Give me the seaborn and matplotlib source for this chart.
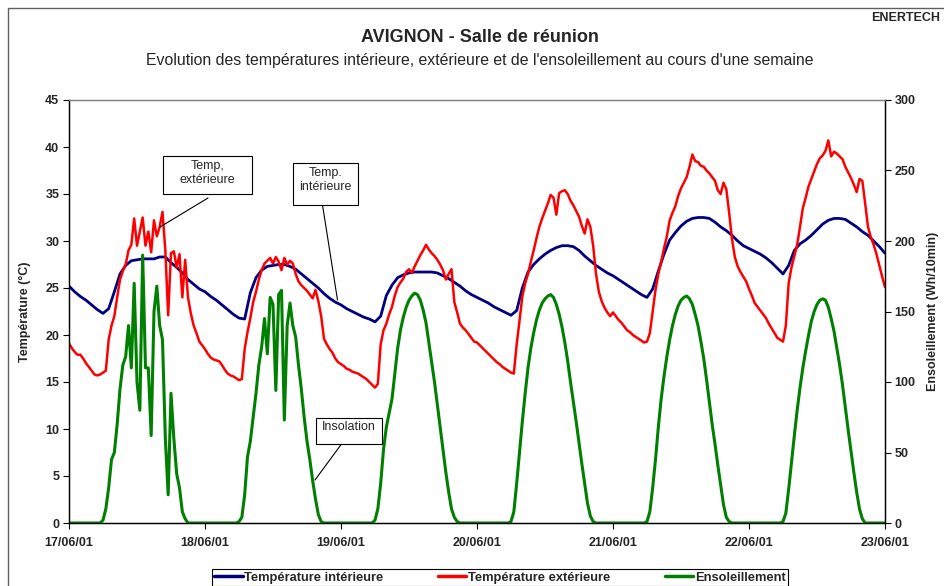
import numpy as np
import pandas as pd
import matplotlib
matplotlib.use('Agg')
import matplotlib.pyplot as plt
import seaborn as sns
from matplotlib.lines import Line2D
from matplotlib.patches import Rectangle

sns.set_style("white")
plt.rcParams['font.family'] = ['Liberation Sans', 'DejaVu Sans']

# dates (une graduation par jour)
jours = ["17/06/01", "18/06/01", "19/06/01", "20/06/01", "21/06/01", "22/06/01", "23/06/01"]

# temperature interieure, pas horaire (°C)
t_interieure = [
    25.2, 24.6, 24.1, 23.7, 23.2, 22.7, 22.3, 22.8, 24.6, 26.5, 27.4, 27.9, 28.0, 28.1, 28.1, 28.1, 28.3, 28.3, 27.7, 27.2, 26.6, 25.9, 25.4, 24.9,
    24.6, 24.1, 23.7, 23.2, 22.7, 22.2, 21.8, 21.7, 24.5, 26.1, 26.9, 27.3, 27.4, 27.5, 27.5, 27.3, 27.0, 26.5, 26.0, 25.5, 25.0, 24.4, 23.9, 23.5,
    23.2, 22.8, 22.5, 22.2, 21.9, 21.7, 21.4, 22.0, 24.2, 25.3, 26.1, 26.4, 26.6, 26.7, 26.7, 26.7, 26.7, 26.6, 26.3, 26.0, 25.6, 25.2, 24.7, 24.3,
    24.0, 23.7, 23.4, 23.0, 22.7, 22.4, 22.1, 22.6, 25.0, 26.7, 27.5, 28.1, 28.6, 29.0, 29.3, 29.5, 29.5, 29.4, 29.0, 28.4, 27.9, 27.4, 27.0, 26.6,
    26.3, 25.9, 25.5, 25.1, 24.7, 24.3, 24.0, 24.9, 26.8, 28.6, 30.1, 30.9, 31.6, 32.1, 32.4, 32.5, 32.5, 32.4, 32.0, 31.5, 31.1, 30.6, 30.0, 29.5,
    29.2, 28.9, 28.6, 28.2, 27.7, 27.1, 26.5, 27.4, 29.0, 29.7, 30.1, 30.6, 31.2, 31.8, 32.2, 32.4, 32.4, 32.3, 31.9, 31.5, 31.0, 30.6, 30.0, 29.4,
    28.7,
]

# temperature exterieure, pas de 30 min (°C)
t_exterieure = [
    19.1, 18.6, 18.2, 17.9, 17.9, 17.5, 17.0, 16.6, 16.2, 15.8, 15.7, 15.8, 16.0, 16.2, 19.5, 21.0, 22.0, 24.0, 25.9, 26.8, 27.5, 29.0, 29.6, 32.4,
    29.5, 31.0, 32.5, 29.5, 31.0, 28.8, 32.2, 30.5, 31.5, 33.1, 29.0, 22.1, 28.7, 28.9, 27.2, 28.6, 24.0, 28.0, 24.0, 22.3, 21.0, 20.2, 19.3, 18.9,
    18.5, 18.0, 17.6, 17.4, 17.3, 17.2, 16.8, 16.3, 15.9, 15.7, 15.6, 15.4, 15.2, 15.3, 18.5, 20.3, 21.8, 23.5, 24.6, 25.9, 26.9, 27.6, 27.9, 28.2,
    27.6, 28.3, 27.8, 26.9, 28.2, 27.5, 27.9, 27.6, 26.5, 25.7, 25.3, 25.0, 24.7, 24.3, 23.9, 24.8, 23.6, 22.0, 19.6, 19.0, 18.5, 18.1, 17.5, 17.1,
    16.9, 16.7, 16.4, 16.3, 16.1, 16.0, 15.9, 15.7, 15.5, 15.3, 15.0, 14.7, 14.4, 14.8, 19.0, 20.5, 21.2, 22.2, 23.0, 24.2, 25.1, 25.6, 26.0, 26.7,
    27.0, 26.6, 27.3, 27.9, 28.5, 29.0, 29.6, 29.1, 28.7, 28.4, 28.0, 27.5, 26.9, 25.9, 26.5, 27.0, 23.5, 22.4, 21.2, 20.8, 20.5, 20.1, 19.7, 19.3,
    19.2, 18.9, 18.6, 18.3, 18.0, 17.7, 17.4, 17.1, 16.9, 16.6, 16.4, 16.2, 16.0, 15.9, 19.0, 21.5, 24.1, 25.5, 26.5, 27.8, 29.0, 30.3, 31.5, 32.4,
    33.2, 34.0, 34.9, 34.6, 32.8, 35.1, 35.3, 35.4, 35.0, 34.3, 33.8, 33.2, 32.6, 31.6, 30.8, 32.3, 31.5, 29.5, 26.5, 24.6, 23.6, 22.9, 22.4, 22.0,
    22.4, 22.0, 21.6, 21.3, 20.9, 20.5, 20.3, 20.0, 19.8, 19.6, 19.4, 19.2, 19.3, 20.2, 22.5, 24.8, 26.5, 27.8, 29.2, 30.5, 32.2, 33.0, 33.7, 34.8,
    35.6, 36.2, 36.8, 37.9, 39.2, 38.5, 38.4, 38.0, 37.9, 37.5, 37.2, 36.8, 36.4, 35.4, 35.0, 36.2, 35.5, 33.0, 30.2, 28.3, 27.3, 26.7, 26.2, 25.7,
    24.9, 24.2, 23.4, 23.0, 22.6, 22.2, 21.8, 21.2, 20.7, 20.2, 19.7, 19.5, 19.3, 21.0, 25.5, 27.2, 28.4, 29.6, 31.5, 33.5, 34.6, 35.8, 36.6, 37.4,
    38.2, 38.8, 39.1, 39.6, 40.7, 39.0, 39.5, 39.3, 39.0, 38.7, 37.9, 37.3, 36.7, 36.0, 35.2, 36.6, 36.4, 34.0, 31.5, 30.4, 29.6, 28.6, 27.4, 26.2,
    25.1,
]

# ensoleillement, pas de 30 min (Wh/10min)
ensoleillement = [
    0, 0, 0, 0, 0, 0, 0, 0, 0, 0, 0, 0, 2, 10, 25, 45, 50, 70, 95, 112, 118, 140, 110, 170,
    100, 80, 190, 110, 110, 62, 150, 168, 140, 130, 60, 20, 92, 60, 35, 25, 8, 3, 0, 0, 0, 0, 0, 0,
    0, 0, 0, 0, 0, 0, 0, 0, 0, 0, 0, 0, 1, 4, 20, 47, 58, 75, 92, 112, 125, 145, 120, 160,
    155, 94, 162, 165, 73, 140, 156, 140, 132, 112, 95, 75, 58, 45, 30, 17, 6, 1, 0, 0, 0, 0, 0, 0,
    0, 0, 0, 0, 0, 0, 0, 0, 0, 0, 0, 0, 2, 10, 28, 52, 68, 78, 88, 106, 124, 137, 146, 153,
    158, 161, 163, 162, 158, 151, 142, 128, 114, 100, 84, 68, 52, 36, 22, 10, 4, 1, 0, 0, 0, 0, 0, 0,
    0, 0, 0, 0, 0, 0, 0, 0, 0, 0, 0, 0, 1, 8, 28, 50, 72, 92, 110, 124, 135, 144, 151, 156,
    159, 161, 162, 160, 155, 148, 139, 128, 115, 100, 86, 72, 57, 42, 28, 14, 5, 1, 0, 0, 0, 0, 0, 0,
    0, 0, 0, 0, 0, 0, 0, 0, 0, 0, 0, 0, 1, 8, 25, 45, 68, 88, 104, 118, 130, 140, 148, 154,
    158, 160, 161, 159, 155, 148, 140, 129, 117, 102, 86, 70, 56, 41, 27, 13, 4, 1, 0, 0, 0, 0, 0, 0,
    0, 0, 0, 0, 0, 0, 0, 0, 0, 0, 0, 0, 1, 7, 24, 43, 62, 80, 96, 110, 122, 133, 143, 150,
    155, 158, 159, 158, 153, 145, 136, 124, 112, 98, 82, 66, 51, 36, 22, 10, 3, 0, 0, 0, 0, 0, 0, 0,
    0,
]

heures_1h = np.arange(len(t_interieure)) * 1.0
heures_30 = np.arange(len(t_exterieure)) * 0.5

df_int = pd.DataFrame({'h': heures_1h, 'T': t_interieure})
df_ext = pd.DataFrame({'h': heures_30, 'T': t_exterieure, 'E': ensoleillement})

BLEU, ROUGE, VERT = '#000080', '#FF0000', '#008000'
H = 586  # hauteur en pixels, pour placer les etiquettes

fig = plt.figure(figsize=(9.45, 5.86), dpi=100)
ax = fig.add_axes([69/945, 1 - 523/586, 816/945, 423/586])
ax2 = ax.twinx()

sns.lineplot(data=df_int, x='h', y='T', ax=ax, color=BLEU, lw=2, estimator=None)
sns.lineplot(data=df_ext, x='h', y='T', ax=ax, color=ROUGE, lw=1.8, estimator=None)
sns.lineplot(data=df_ext, x='h', y='E', ax=ax2, color=VERT, lw=2.2, estimator=None)

ax.set_xlim(0, 144)
ax.set_ylim(0, 45)
ax2.set_ylim(0, 300)
ax.set_xticks(np.arange(0, 145, 24))
ax.set_xticklabels(jours, fontsize=9, fontweight='bold')
ax.set_yticks(np.arange(0, 46, 5))
ax.set_yticklabels([str(v) for v in range(0, 46, 5)], fontsize=9, fontweight='bold')
ax2.set_yticks(np.arange(0, 301, 50))
ax2.set_yticklabels([str(v) for v in range(0, 301, 50)], fontsize=9, fontweight='bold')

ax.tick_params(axis='both', direction='out', length=4, width=0.8, color='black', pad=3, left=True, bottom=True)
ax.tick_params(axis='x', pad=6)
ax2.tick_params(axis='y', direction='out', length=4, width=0.8, color='black', pad=3, right=True)

ax.set_xlabel('')
ax.set_ylabel('Température (°C)', fontsize=9, fontweight='bold')
ax2.set_ylabel('Ensoleillement (Wh/10min)', fontsize=9, fontweight='bold')
ax.yaxis.set_label_coords(-0.047, 0.5)
ax2.yaxis.set_label_coords(1.052, 0.5)

for a in (ax, ax2):
    a.spines['top'].set_color('#808080')
    a.spines['left'].set_color('black')
    a.spines['bottom'].set_color('black')
    a.spines['right'].set_color('black')
    for s in a.spines.values():
        s.set_linewidth(0.9)

# titres
fig.text(0.508, 1 - 37/586, 'AVIGNON - Salle de réunion', ha='center', va='center', fontsize=13, fontweight='bold')
fig.text(0.508, 1 - 60/586, "Evolution des températures intérieure, extérieure et de l'ensoleillement au cours d'une semaine",
         ha='center', va='center', fontsize=11.4)
fig.text(940/945, 1 - 18/586, 'ENERTECH', ha='right', va='center', fontsize=9, fontweight='bold')

# etiquettes encadrees avec traits de rappel (en pixels de la figure)
etiquettes = [
    # texte, centre du texte, cadre (x0, y0, x1, y1), trait (x0, y0, x1, y1)
    ('Temp,\nextérieure', (207.5, 173), (163, 156, 252, 194), (208, 198, 160, 227)),
    ('Temp.\nintérieure', (325.5, 180), (293, 163, 358, 205), (322.5, 205, 337.5, 300)),
    ('Insolation', (349, 427), (316, 418, 382, 444), (341.5, 444, 315, 480)),
]
for texte, (tx, ty), (x0, y0, x1, y1), (lx0, ly0, lx1, ly1) in etiquettes:
    fig.patches.append(Rectangle((x0, H - y1), x1 - x0, y1 - y0, transform=None,
                                 fc='white', ec='black', lw=0.8, zorder=5))
    fig.text(tx / 945, 1 - ty / H, texte, ha='center', va='center', fontsize=9, zorder=6,
             linespacing=1.3)
    fig.lines.append(Line2D([lx0, lx1], [H - ly0, H - ly1], transform=None, color='black', lw=0.8, zorder=5))

# legende en bas
poignees = [Line2D([], [], color=BLEU, lw=2.5), Line2D([], [], color=ROUGE, lw=2.5), Line2D([], [], color=VERT, lw=2.5)]
leg = fig.legend(poignees, ['Température intérieure', 'Température extérieure', 'Ensoleillement'],
                 loc='upper center', bbox_to_anchor=(500/945, 1 - 569/586), ncol=3, frameon=True,
                 fancybox=False, edgecolor='black', framealpha=1, prop={'size': 9.3, 'weight': 'bold'},
                 handlelength=2.2, handletextpad=0.15, columnspacing=4.2, borderpad=0.2,
                 borderaxespad=0)
leg.get_frame().set_linewidth(0.8)

# cadre du graphique
fig.patches.append(Rectangle((8/945, -0.1), 1.2, 1.1 - 8/586, transform=fig.transFigure,
                             fill=False, edgecolor='#606060', lw=1))

fig.savefig('out.png', dpi=100)
